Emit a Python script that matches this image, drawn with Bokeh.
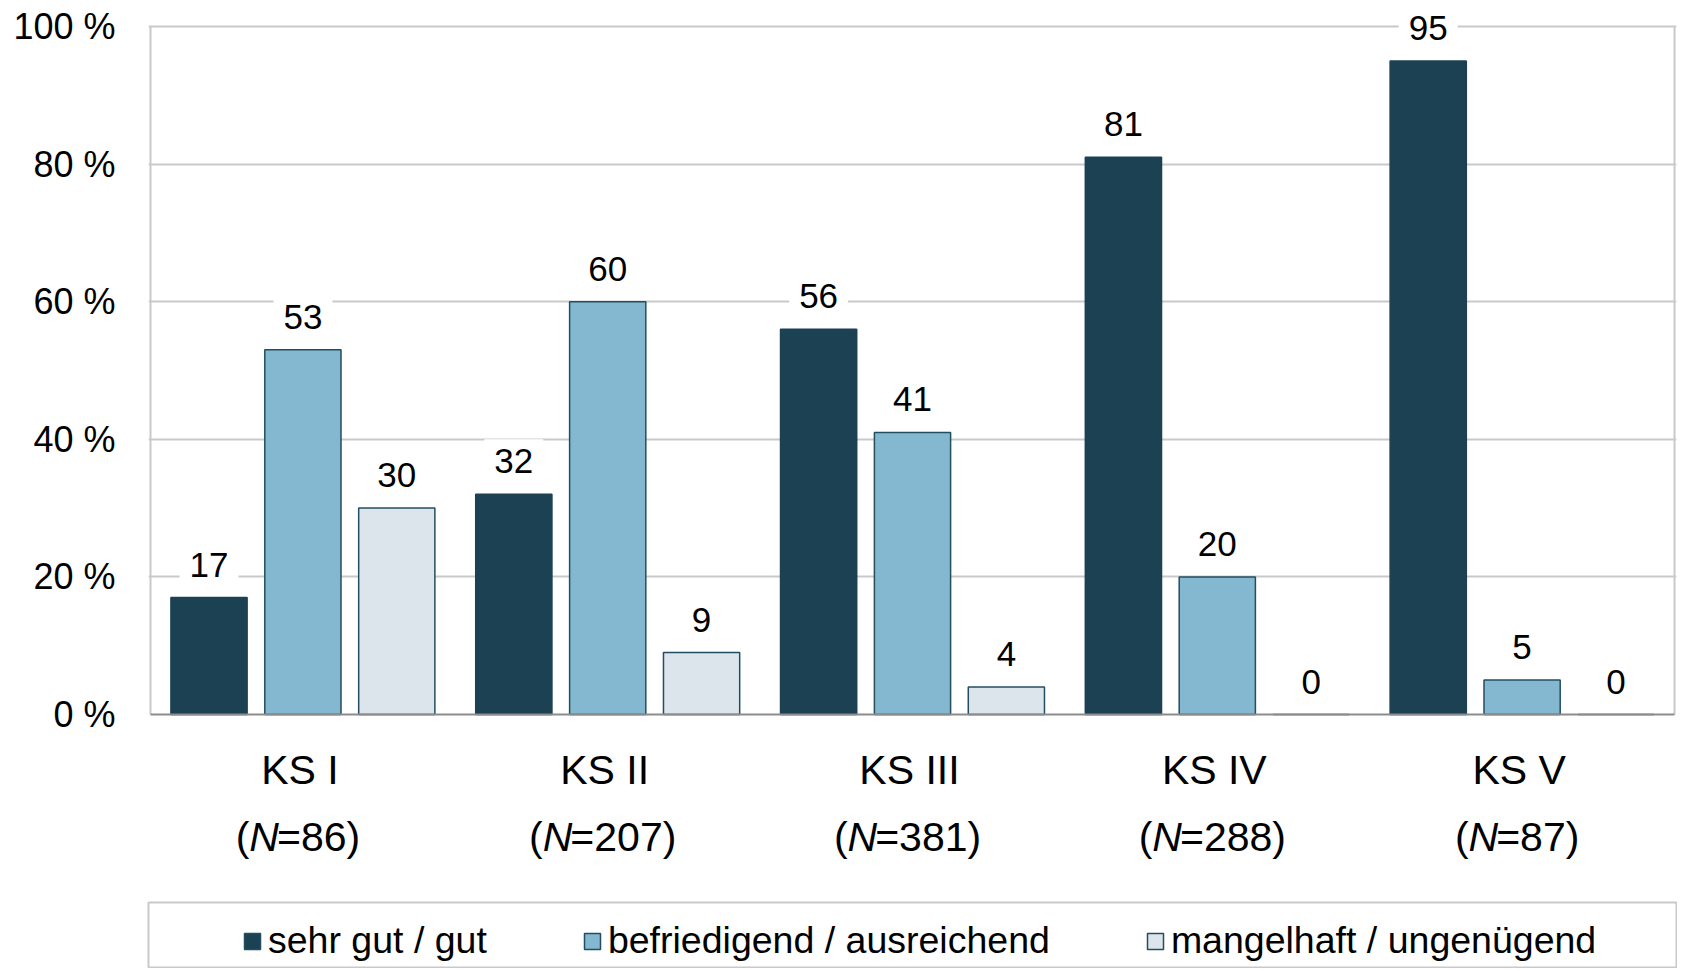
from bokeh.plotting import figure
from bokeh.models import Range1d, FixedTicker, Label, Span, Legend, LegendItem
from bokeh.layouts import column
from bokeh.embed import file_html
from bokeh.resources import INLINE

# ---------------- data ----------------
categories = ["KS I", "KS II", "KS III", "KS IV", "KS V"]
n_values = [86, 207, 381, 288, 87]
series_names = ["sehr gut / gut", "befriedigend / ausreichend", "mangelhaft / ungenügend"]
sehr_gut = [17, 32, 56, 81, 95]
befriedigend = [53, 60, 41, 20, 5]
mangelhaft = [30, 9, 4, 0, 0]
y_ticks = [0, 20, 40, 60, 80, 100]
y_tick_labels = ["0 %", "20 %", "40 %", "60 %", "80 %", "100 %"]

series_values = [sehr_gut, befriedigend, mangelhaft]

# ---------------- styles / layout ----------------
FONT = "Liberation Sans"
colors = ["#1c4153", "#83b8d0", "#dde5ec"]
line_colors = ["#1c4153", "#234d60", "#234d60"]
offsets = [-0.308, 0.0, 0.308]
BAR_W = 0.25
GRID = "#c9c9c9"

W, H1, H2 = 1677, 900, 68
TOP_PX, BASE_PX = 26, 714          # pixel rows of 100 % and 0 %
LEFT_PX, RIGHT_PX = 150, 1675      # pixel columns of the plot box
EXTRA = 2                          # frame is 2px wider than the box on each side
ncat = len(categories)
ppu_y = (BASE_PX - TOP_PX) / 100.0
ppu_x = (RIGHT_PX - LEFT_PX) / ncat
y_lo = -(H1 - BASE_PX) / ppu_y
y_hi = 100 + TOP_PX / ppu_y
x_lo = -EXTRA / ppu_x
x_hi = ncat + EXTRA / ppu_x

p = figure(width=W, height=H1, output_backend="svg", toolbar_location=None,
           x_range=Range1d(x_lo, x_hi), y_range=Range1d(y_lo, y_hi),
           min_border_left=LEFT_PX - EXTRA, min_border_right=W - RIGHT_PX - EXTRA,
           min_border_top=0, min_border_bottom=0)
p.background_fill_color = "white"
p.border_fill_color = "white"
p.outline_line_color = None

centers = [i + 0.5 for i in range(ncat)]

# plot box (top and sides)
p.add_layout(Span(location=100, dimension="width", line_color=GRID, line_width=2))
p.segment(x0=[0, ncat], y0=[0, 0], x1=[0, ncat], y1=[100, 100], line_color=GRID, line_width=2)

for k in range(3):
    xs = [c + offsets[k] for c in centers]
    p.vbar(x=xs, top=series_values[k], width=BAR_W,
           fill_color=colors[k], line_color=line_colors[k], line_width=1.5)

# baseline
p.segment(x0=[0], y0=[0], x1=[ncat], y1=[0], line_color="#8c8c8c", line_width=2)

pad = {}
yoff = 20
if "padding" in Label.properties():
    pad["padding"] = 10
    yoff = 33

for k in range(3):
    for c, v in zip(centers, series_values[k]):
        p.add_layout(Label(x=c + offsets[k], y=v, text=str(v), y_offset=yoff,
                           text_align="center", text_baseline="alphabetic",
                           text_font=FONT, text_font_size="35px", text_color="#000000",
                           background_fill_color="white", **pad))

# y axis
p.yaxis.ticker = FixedTicker(ticks=y_ticks)
p.yaxis.major_label_overrides = {t: lab for t, lab in zip(y_ticks, y_tick_labels)}
p.yaxis.axis_line_color = None
p.yaxis.major_tick_line_color = None
p.yaxis.minor_tick_line_color = None
p.yaxis.major_tick_out = 0
p.yaxis.major_tick_in = 0
p.yaxis.major_label_standoff = 35 - EXTRA
p.yaxis.major_label_text_font = FONT
p.yaxis.major_label_text_font_size = "36px"
p.yaxis.major_label_text_color = "#000000"
p.ygrid.ticker = FixedTicker(ticks=y_ticks[1:-1])
p.ygrid.grid_line_color = GRID
p.ygrid.grid_line_width = 2
p.xgrid.grid_line_color = None
p.xaxis.visible = False

# x category labels (with italic N)
XFS = 41
char_w = {"(": 333, ")": 333, "N": 722, "=": 584}
for d in "0123456789":
    char_w[d] = 556
common = dict(text_font=FONT, text_font_size=f"{XFS}px", text_color="#000000",
              text_baseline="alphabetic", text_align="left")
for c, cat, n in zip(centers, categories, n_values):
    p.add_layout(Label(x=c, y=0, text=cat, y_offset=-55, x_offset=-3, text_font=FONT,
                       text_font_size=f"{XFS}px", text_color="#000000",
                       text_baseline="alphabetic", text_align="center"))
    rest = f"={n})"
    tot = (333 + 722 + sum(char_w[ch] for ch in rest)) * XFS / 1000
    x0 = -tot / 2 - 4
    p.add_layout(Label(x=c, y=0, text="(", y_offset=-122, x_offset=x0, **common))
    p.add_layout(Label(x=c, y=0, text="N", y_offset=-122, x_offset=x0 + 333 * XFS / 1000,
                       text_font_style="italic", **common))
    p.add_layout(Label(x=c, y=0, text=rest, y_offset=-122,
                       x_offset=x0 + (333 + 722) * XFS / 1000 - 2, **common))

# ---------------- legend figure ----------------
p2 = figure(width=W, height=H2, output_backend="svg", toolbar_location=None,
            x_range=Range1d(0, 1), y_range=Range1d(0, 1),
            min_border_left=148, min_border_right=1, min_border_top=2, min_border_bottom=0)
p2.axis.visible = False
p2.grid.visible = False
p2.outline_line_color = GRID
p2.outline_line_width = 2
p2.background_fill_color = "white"
p2.border_fill_color = "white"

items = []
for k in range(3):
    # zero-size placeholder renderers: only their styles are used by the legend
    r = p2.vbar(x=[0.02], bottom=[0.5], top=[0.5], width=0, fill_color=colors[k],
                line_color="#234d60", line_width=1.5)
    items.append(LegendItem(label=series_names[k], renderers=[r]))
leg = Legend(items=items, orientation="horizontal", location=(94, 6),
             glyph_width=20, glyph_height=20, label_standoff=6, spacing=95,
             padding=0, margin=0, border_line_color=None, background_fill_alpha=0,
             label_text_font=FONT, label_text_font_size="37.5px", label_text_color="#000000")
p2.add_layout(leg, "center")

layout = column(p, p2, spacing=0)
open("out.html", "w").write(file_html(layout, INLINE))
